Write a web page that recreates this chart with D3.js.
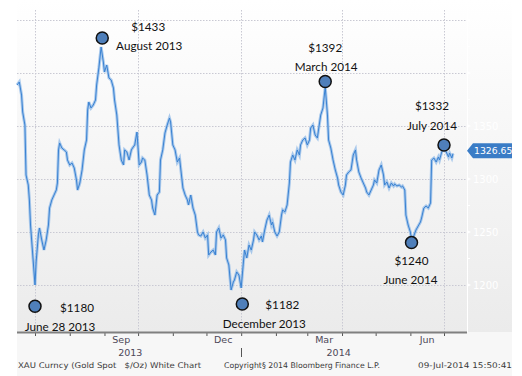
<!DOCTYPE html>
<html>
<head>
<meta charset="utf-8">
<script src="https://cdn.jsdelivr.net/npm/d3@7"></script>
<style>
  body { margin: 0; background: #fff; }
  svg { display: block; }
  .note { font-family: Lato, "Open Sans", sans-serif; font-size: 11.7px; fill: #111; }
  .bb { font-family: "DejaVu Sans", Verdana, sans-serif; }
</style>
</head>
<body>
<div id="chart"></div>
<script>
// daily gold spot
const dates = [
  "2013-06-15","2013-06-17","2013-06-19","2013-06-20","2013-06-22","2013-06-23","2013-06-25","2013-06-26","2013-06-27","2013-06-29",
  "2013-07-01","2013-07-02","2013-07-04","2013-07-05","2013-07-07","2013-07-09","2013-07-11","2013-07-13","2013-07-14","2013-07-16",
  "2013-07-18","2013-07-20","2013-07-21","2013-07-22","2013-07-23","2013-07-25","2013-07-27","2013-07-29","2013-07-30","2013-08-01",
  "2013-08-03","2013-08-05","2013-08-07","2013-08-08","2013-08-10","2013-08-12","2013-08-14","2013-08-16","2013-08-17","2013-08-18",
  "2013-08-20","2013-08-22","2013-08-24","2013-08-25","2013-08-27","2013-08-29","2013-08-31","2013-09-01","2013-09-03","2013-09-05",
  "2013-09-07","2013-09-09","2013-09-10","2013-09-12","2013-09-14","2013-09-16","2013-09-18","2013-09-19","2013-09-21","2013-09-23",
  "2013-09-25","2013-09-26","2013-09-28","2013-09-30","2013-10-02","2013-10-04","2013-10-05","2013-10-07","2013-10-09","2013-10-11",
  "2013-10-13","2013-10-14","2013-10-16","2013-10-18","2013-10-20","2013-10-21","2013-10-23","2013-10-25","2013-10-27","2013-10-29",
  "2013-10-30","2013-11-01","2013-11-03","2013-11-05","2013-11-07","2013-11-08","2013-11-10","2013-11-12","2013-11-14","2013-11-15",
  "2013-11-17","2013-11-19","2013-11-21","2013-11-23","2013-11-24","2013-11-26","2013-11-28","2013-11-30","2013-12-02","2013-12-03",
  "2013-12-05","2013-12-07","2013-12-09","2013-12-10","2013-12-12","2013-12-14","2013-12-16","2013-12-18","2013-12-19","2013-12-21",
  "2013-12-23","2013-12-25","2013-12-26","2013-12-28","2013-12-30","2014-01-01","2014-01-03","2014-01-04","2014-01-06","2014-01-08",
  "2014-01-10","2014-01-12","2014-01-13","2014-01-15","2014-01-17","2014-01-19","2014-01-20","2014-01-22","2014-01-24","2014-01-26",
  "2014-01-28","2014-01-29","2014-01-31","2014-02-02","2014-02-04","2014-02-06","2014-02-07","2014-02-09","2014-02-11","2014-02-13",
  "2014-02-14","2014-02-16","2014-02-18","2014-02-20","2014-02-22","2014-02-23","2014-02-25","2014-02-27","2014-03-01","2014-03-03",
  "2014-03-04","2014-03-06","2014-03-08","2014-03-10","2014-03-11","2014-03-13","2014-03-15","2014-03-17","2014-03-19","2014-03-20",
  "2014-03-22","2014-03-24","2014-03-26","2014-03-28","2014-03-29","2014-03-31","2014-04-02","2014-04-04","2014-04-05","2014-04-07",
  "2014-04-09","2014-04-11","2014-04-13","2014-04-14","2014-04-16","2014-04-18","2014-04-20","2014-04-22","2014-04-23","2014-04-25",
  "2014-04-27","2014-04-29","2014-04-30","2014-05-02","2014-05-04","2014-05-06","2014-05-08","2014-05-09","2014-05-11","2014-05-13",
  "2014-05-15","2014-05-17","2014-05-18","2014-05-20","2014-05-22","2014-05-24","2014-05-25","2014-05-27","2014-05-28","2014-05-30",
  "2014-06-01","2014-06-02","2014-06-04","2014-06-06","2014-06-08","2014-06-10","2014-06-11","2014-06-13","2014-06-15","2014-06-17",
  "2014-06-19","2014-06-20","2014-06-22","2014-06-24","2014-06-26","2014-06-27","2014-06-29","2014-07-01","2014-07-03","2014-07-05",
  "2014-07-06","2014-07-08","2014-07-09"
];
const prices = [
  1388.7,1391.5,1379.2,1363.2,1350.9,1303.8,1294.3,1280.2,1256.6,1228.3,
  1200.0,1221.7,1247.2,1253.8,1242.5,1233.0,1242.5,1256.6,1272.6,1280.2,
  1284.9,1289.6,1296.2,1327.4,1334.0,1329.2,1327.4,1325.5,1317.9,1313.2,
  1315.1,1310.4,1299.1,1289.6,1296.2,1308.5,1327.4,1336.8,1365.1,1372.6,
  1367.0,1369.8,1374.5,1388.7,1404.7,1424.5,1410.4,1400.9,1407.5,1395.3,
  1393.4,1385.8,1374.5,1360.4,1332.1,1317.9,1313.2,1327.4,1325.5,1317.9,
  1327.4,1329.2,1332.1,1344.3,1313.2,1316.0,1319.8,1317.9,1303.8,1284.9,
  1280.2,1272.6,1266.0,1284.9,1287.7,1317.9,1327.4,1343.4,1350.9,1357.5,
  1353.8,1332.1,1327.4,1316.0,1319.8,1310.4,1291.5,1284.9,1280.2,1275.5,
  1284.9,1272.6,1266.0,1250.0,1247.2,1246.2,1250.0,1244.3,1247.2,1228.3,
  1231.1,1233.0,1228.3,1250.0,1253.8,1244.3,1247.2,1242.5,1225.5,1218.9,
  1195.3,1202.8,1204.7,1212.3,1209.4,1197.2,1221.7,1233.0,1225.5,1237.7,
  1233.0,1242.5,1250.0,1247.2,1242.5,1246.2,1240.6,1251.9,1261.3,1266.0,
  1256.6,1259.4,1250.0,1246.2,1250.0,1266.0,1270.8,1268.9,1275.5,1296.2,
  1316.0,1322.6,1317.9,1327.4,1322.6,1332.1,1336.8,1338.7,1332.1,1336.8,
  1348.1,1350.9,1341.5,1338.7,1346.2,1360.4,1367.0,1386.8,1360.4,1336.8,
  1329.2,1317.9,1308.5,1300.9,1294.3,1287.7,1284.9,1294.3,1303.8,1306.6,
  1308.5,1322.6,1327.4,1317.9,1306.6,1300.9,1296.2,1291.5,1287.7,1284.9,
  1289.6,1294.3,1299.1,1296.2,1308.5,1313.2,1303.8,1294.3,1297.2,1291.5,
  1296.2,1293.4,1295.3,1293.4,1294.3,1292.5,1293.4,1289.6,1266.0,1256.6,
  1250.0,1242.5,1246.2,1251.9,1255.7,1259.4,1263.2,1272.6,1274.5,1272.6,
  1277.4,1317.9,1319.8,1316.0,1320.8,1317.9,1325.5,1328.3,1325.5,1320.8,
  1324.5,1319.8,1324.0
];
const lastPrice = 1326.65;

// right axis
const priceTicks = [1200, 1250, 1300, 1350, 1400, 1450];
const minorTicks = [1225, 1275, 1325, 1375, 1425];

// bottom axis
const gridDates = ["2013-07-01","2013-10-01","2014-01-01","2014-04-01","2014-07-01"];
const monthLabels = ["Sep", "Dec", "Mar", "Jun"];
const monthLabelDates = ["2013-09-16","2013-12-16","2014-03-16","2014-06-16"];
const yearLabels = ["2013", "2014"];
const yearLabelDates = ["2013-09-24","2014-03-29"];
const yearSplit = "2014-01-01";

// annotations
const noteDates = ["2013-07-01","2013-08-30","2014-01-02","2014-03-17","2014-06-02","2014-07-01"];
const noteValues = [1180, 1433, 1182, 1392, 1240, 1332];
const noteValueText = ["$1180", "$1433", "$1182", "$1392", "$1240", "$1332"];
const noteDateText = ["June 28 2013", "August 2013", "December 2013", "March 2014", "June 2014", "July 2014"];

const footer = ["XAU Curncy (Gold Spot\u00A0\u00A0\u00A0$/Oz) White Chart", "Copyright\u00A7 2014 Bloomberg Finance L.P.", "09-Jul-2014 15:50:41"];

const width = 522, height = 376;
const plotLeft = 17, plotRight = 467, plotTop = 10, plotBottom = 332;
const parse = d3.timeParse("%Y-%m-%d");

const data = dates.map((d, i) => ({date: parse(d), value: prices[i]}));

const x = d3.scaleTime()
    .domain([parse("2013-07-01"), parse("2014-07-01")])
    .range([35, 444]);
const y = d3.scaleLinear()
    .domain([1200, 1450])
    .range([285, 20]);

const svg = d3.select('#chart').append('svg')
    .attr('width', width)
    .attr('height', height);

// background gradient
const grad = svg.append('defs').append('linearGradient')
    .attr('id', 'bg').attr('x1', 0).attr('y1', 0).attr('x2', 0).attr('y2', 1);
grad.append('stop').attr('offset', '0%').attr('stop-color', '#ffffff');
grad.append('stop').attr('offset', '100%').attr('stop-color', '#ebebeb');

svg.append('rect')
    .attr('x', plotLeft).attr('y', 0)
    .attr('width', 512 - plotLeft).attr('height', plotBottom)
    .attr('fill', 'url(#bg)');
svg.append('rect')
    .attr('x', plotLeft).attr('y', plotBottom)
    .attr('width', 512 - plotLeft).attr('height', height - plotBottom)
    .attr('fill', '#f7f7f7');

// grid
const grid = svg.append('g').attr('stroke', '#c9c9d3').attr('stroke-dasharray', '1.5,1.5');
grid.selectAll('line.h')
    .data(priceTicks)
    .join('line')
    .attr('x1', plotLeft).attr('x2', plotRight)
    .attr('y1', d => Math.round(y(d)) + 0.5).attr('y2', d => Math.round(y(d)) + 0.5);
grid.selectAll('line.v')
    .data(gridDates)
    .join('line')
    .attr('x1', d => Math.round(x(parse(d))) + 0.5).attr('x2', d => Math.round(x(parse(d))) + 0.5)
    .attr('y1', plotTop).attr('y2', plotBottom);

// right axis (white on grey, as in the original)
const ra = svg.append('g').attr('class', 'bb');
ra.selectAll('text')
    .data(priceTicks.filter(d => d < 1400))
    .join('text')
    .attr('x', 473).attr('y', d => y(d) + 3.5)
    .attr('font-size', 10)
    .attr('fill', '#ffffff')
    .text(d => d);
ra.selectAll('path.tri')
    .data(priceTicks)
    .join('path')
    .attr('d', d => `M${plotRight},${y(d) - 2}L${plotRight + 4},${y(d)}L${plotRight},${y(d) + 2}Z`)
    .attr('fill', '#ffffff');
ra.selectAll('line.minor')
    .data(minorTicks)
    .join('line')
    .attr('x1', plotRight).attr('x2', plotRight + 3)
    .attr('y1', d => y(d)).attr('y2', d => y(d))
    .attr('stroke', '#ffffff');
ra.append('line')
    .attr('x1', plotRight + 0.5).attr('x2', plotRight + 0.5)
    .attr('y1', 0).attr('y2', plotBottom)
    .attr('stroke', '#ffffff');

// series: light band under a thin dark-blue trace
const line = d3.line()
    .x(d => x(d.date))
    .y(d => y(d.value));
svg.append('path')
    .datum(data)
    .attr('d', line)
    .attr('fill', 'none')
    .attr('stroke', '#8fb9e8')
    .attr('stroke-opacity', 0.75)
    .attr('stroke-width', 3);
svg.append('path')
    .datum(data)
    .attr('d', line)
    .attr('fill', 'none')
    .attr('stroke', '#3a82d2')
    .attr('stroke-width', 1);

// last price tag
const ly = y(lastPrice);
svg.append('path')
    .attr('d', `M${plotRight},${ly}L${plotRight + 6},${ly - 7.5}L512,${ly - 7.5}L512,${ly + 7.5}L${plotRight + 6},${ly + 7.5}Z`)
    .attr('fill', '#3a7cc6');
svg.append('text')
    .attr('class', 'bb')
    .attr('x', 474).attr('y', ly + 3.5)
    .attr('font-size', 9.3)
    .attr('fill', '#ffffff')
    .text(lastPrice.toFixed(2));

// bottom axis
const axis = svg.append('g')
    .attr('transform', `translate(0,${plotBottom + 1})`)
    .call(d3.axisBottom(x)
        .ticks(d3.timeMonth.every(1))
        .tickSize(3)
        .tickFormat(''));
axis.select('.domain').remove();
axis.selectAll('.tick line').attr('stroke', '#555');
svg.append('line')
    .attr('x1', plotLeft).attr('x2', plotRight)
    .attr('y1', plotBottom + 0.5).attr('y2', plotBottom + 0.5)
    .attr('stroke', '#808080').attr('stroke-width', 2);

svg.append('g').attr('class', 'bb').attr('fill', '#4d4858').attr('font-size', 9.5).attr('text-anchor', 'middle')
    .selectAll('text')
    .data(monthLabels)
    .join('text')
    .attr('x', (d, i) => x(parse(monthLabelDates[i])))
    .attr('y', 343)
    .text(d => d);
svg.append('g').attr('class', 'bb').attr('fill', '#4d4858').attr('font-size', 9.5).attr('text-anchor', 'middle')
    .selectAll('text')
    .data(yearLabels)
    .join('text')
    .attr('x', (d, i) => x(parse(yearLabelDates[i])))
    .attr('y', 356)
    .text(d => d);
svg.append('line')
    .attr('x1', Math.round(x(parse(yearSplit))) + 0.5).attr('x2', Math.round(x(parse(yearSplit))) + 0.5)
    .attr('y1', 348).attr('y2', 357)
    .attr('stroke', '#555');

// footer (stretched to the original text widths)
const footerX = [18, 224, 418], footerW = [183, 156, 94];
svg.append('g').attr('class', 'bb').attr('font-size', 7.8).attr('fill', '#3a3a3a')
    .selectAll('text')
    .data(footer)
    .join('text')
    .attr('x', (d, i) => footerX[i])
    .attr('y', 368)
    .attr('textLength', (d, i) => footerW[i])
    .attr('lengthAdjust', 'spacingAndGlyphs')
    .text(d => d);

// annotations
const notes = noteDates.map((d, i) => ({date: parse(d), value: noteValues[i], vt: noteValueText[i], dt: noteDateText[i]}));
svg.selectAll('circle.note')
    .data(notes)
    .join('circle')
    .attr('cx', d => x(d.date))
    .attr('cy', d => y(d.value))
    .attr('r', 6)
    .attr('fill', '#4f7fba')
    .attr('stroke', '#111')
    .attr('stroke-width', 1.5);

// label offsets relative to the marker
const valueOffset = [[42, 1], [46, -11], [40, 1], [0, -34], [0, 18], [-12, -39]];
const dateOffset = [[25, 20], [47, 8], [22, 20], [1, -15], [-1, 37], [-12, -19]];
const nt = svg.append('g').attr('class', 'note').attr('text-anchor', 'middle');
nt.selectAll('text.v')
    .data(notes)
    .join('text')
    .attr('x', (d, i) => x(d.date) + valueOffset[i][0])
    .attr('y', (d, i) => y(d.value) + valueOffset[i][1] + 4.3)
    .text(d => d.vt);
nt.selectAll('text.d')
    .data(notes)
    .join('text')
    .attr('class', 'd')
    .attr('x', (d, i) => x(d.date) + dateOffset[i][0])
    .attr('y', (d, i) => y(d.value) + dateOffset[i][1] + 4.3)
    .text(d => d.dt);
</script>
</body>
</html>
